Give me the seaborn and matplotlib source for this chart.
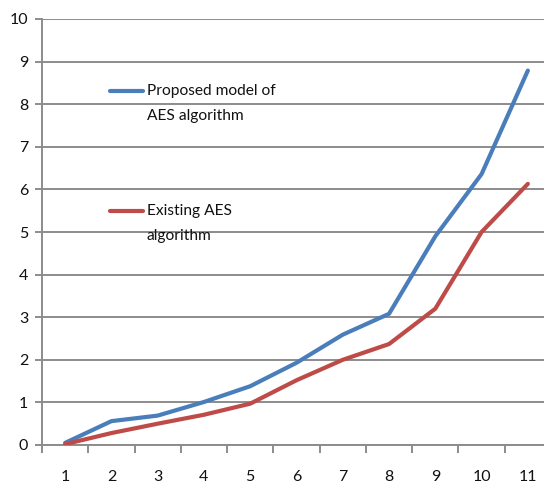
import numpy as np
import pandas as pd
import matplotlib
matplotlib.use("Agg")
import matplotlib.pyplot as plt
import seaborn as sns
from matplotlib.lines import Line2D

# Execution-time measurements for the two AES implementations
runs = [1, 2, 3, 4, 5, 6, 7, 8, 9, 10, 11]
proposed = [0.05, 0.56, 0.69, 1.01, 1.38, 1.93, 2.59, 3.08, 4.90, 6.36, 8.79]
existing = [0.02, 0.28, 0.50, 0.71, 0.97, 1.52, 2.00, 2.37, 3.20, 5.00, 6.13]
series_names = ["Proposed model of\nAES algorithm", "Existing AES\nalgorithm"]
y_ticks = [0, 1, 2, 3, 4, 5, 6, 7, 8, 9, 10]

df = pd.DataFrame({
    "run": runs * 2,
    "time": proposed + existing,
    "series": [series_names[0]] * len(runs) + [series_names[1]] * len(runs),
})

sns.set_theme(style="white")
plt.rcParams["font.family"] = ["Lato", "DejaVu Sans"]

palette = {series_names[0]: "#4A7EBB", series_names[1]: "#BE4B48"}
grid_col = "#8C8C8C"
text_col = "#111111"

fig = plt.figure(figsize=(5.44, 4.83), dpi=100)
ax = fig.add_axes([42 / 544, 38 / 483, 509 / 544, 426 / 483])

sns.lineplot(data=df, x="run", y="time", hue="series", palette=palette,
             linewidth=3.0, ax=ax, legend=False, zorder=3)

ax.set_xlim(0.5, 11.5)
ax.set_ylim(0, 10)
ax.set_yticks(y_ticks)
ax.set_xticks(runs)
ax.set_xticks(np.arange(0.5, 12, 1.0), minor=True)
ax.set_xlabel("")
ax.set_ylabel("")

ax.yaxis.grid(True, color=grid_col, linewidth=1.4)
ax.set_axisbelow(True)
for side in ["top", "right"]:
    ax.spines[side].set_visible(False)
for side in ["left", "bottom"]:
    ax.spines[side].set_color(grid_col)
    ax.spines[side].set_linewidth(1.4)

ax.tick_params(axis="y", which="major", left=True, length=5, width=1.4,
               color=grid_col, labelsize=11.5, pad=5, labelcolor=text_col)
ax.tick_params(axis="x", which="major", bottom=False, length=0,
               labelsize=11.5, pad=18, labelcolor=text_col)
ax.tick_params(axis="x", which="minor", bottom=True, length=6, width=1.4,
               color=grid_col)

# Legend placed inside the plot area, key aligned with the first text line
legend_items = [
    (series_names[0], palette[series_names[0]], 0.832),
    (series_names[1], palette[series_names[1]], 0.550),
]
for label, color, ypos in legend_items:
    ax.add_line(Line2D([0.134, 0.198], [ypos, ypos], transform=ax.transAxes,
                       color=color, linewidth=3.0, solid_capstyle="round",
                       zorder=4))
    ax.text(0.206, ypos + 0.016, label, transform=ax.transAxes, fontsize=11.2,
            va="top", ha="left", color=text_col, linespacing=2.05, zorder=4)

fig.savefig("out.png", dpi=100)
